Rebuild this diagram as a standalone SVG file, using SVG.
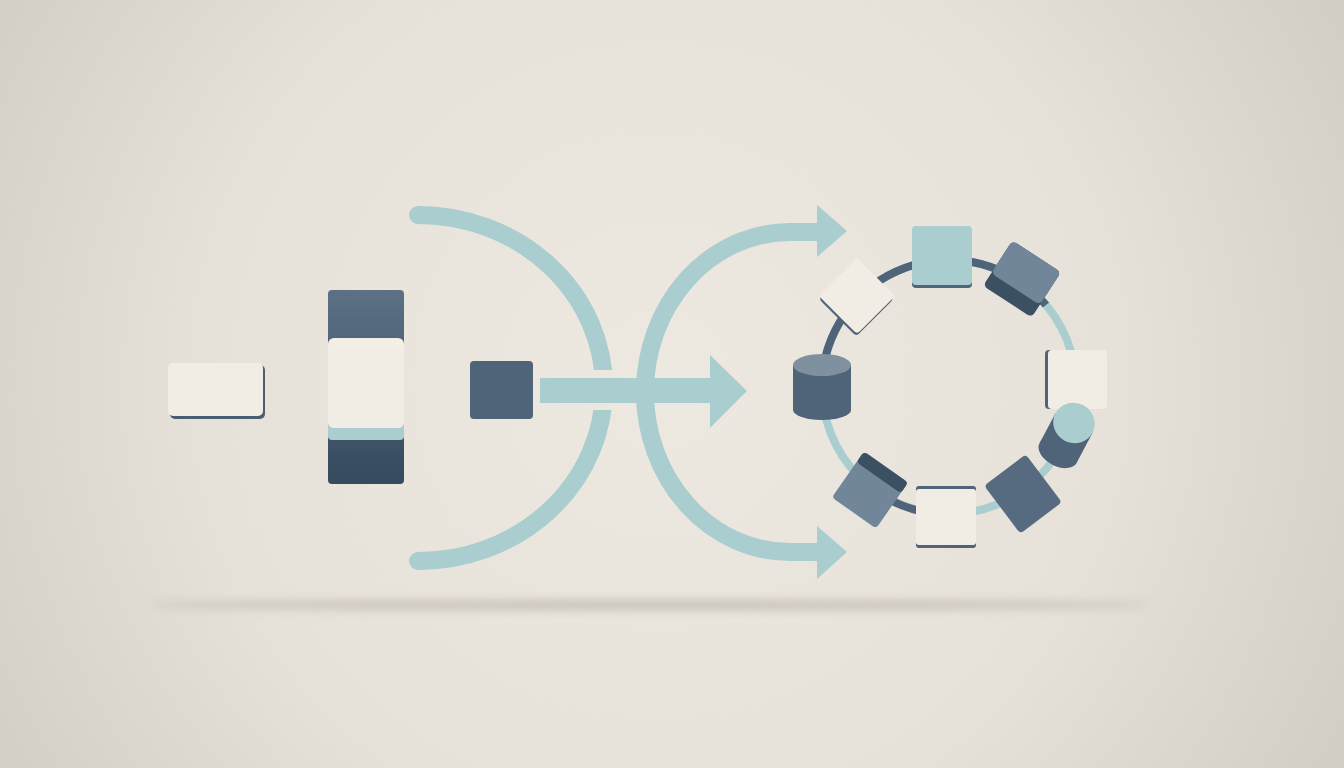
<svg xmlns="http://www.w3.org/2000/svg" width="1344" height="768" viewBox="0 0 1344 768">
  <defs>
    <radialGradient id="bg" cx="660" cy="380" r="760" gradientUnits="userSpaceOnUse">
      <stop offset="0" stop-color="#ede9e1"/>
      <stop offset="0.6" stop-color="#e6e1d9"/>
      <stop offset="1" stop-color="#d3cec6"/>
    </radialGradient>
    <linearGradient id="colGrad" x1="0" y1="0" x2="0" y2="1">
      <stop offset="0" stop-color="#5c7086"/>
      <stop offset="1" stop-color="#354a5d"/>
    </linearGradient>
    <filter id="blur" x="-20%" y="-500%" width="140%" height="1100%">
      <feGaussianBlur stdDeviation="5"/>
    </filter>
    <clipPath id="gapClip">
      <rect x="380" y="190" width="260" height="180"/>
      <rect x="380" y="410" width="260" height="170"/>
    </clipPath>
    <style>
      .flow { fill: none; stroke: #aacdcf; stroke-width: 18; stroke-linecap: butt; }
      .teal { fill: #aacdcf; }
      .cream { fill: #f1ede5; }
      .dark { fill: #4f6379; }
      .deep { fill: #3c5064; }
      .gray { fill: #72869a; }
      .ring { fill: none; stroke-width: 8; }
    </style>
  </defs>

  <rect width="1344" height="768" fill="url(#bg)"/>
  <ellipse cx="650" cy="605" rx="500" ry="5" fill="#a8a197" opacity="0.5" filter="url(#blur)"/>

  <g id="connectors">
    <!-- left arc with a gap around the horizontal arrow -->
    <g clip-path="url(#gapClip)">
      <path class="flow" d="M 418 215 A 186 173 0 0 1 418 561"/>
    </g>
    <circle class="teal" cx="418" cy="215" r="9"/>
    <circle class="teal" cx="418" cy="561" r="9"/>
    <!-- right arc with two arrows -->
    <path class="flow" d="M 820 232 L 790 232 A 145 160 0 0 0 790 552 L 820 552"/>
    <polygon class="teal" points="817,205 847,231 817,257"/>
    <polygon class="teal" points="817,526 847,552 817,579"/>
    <!-- straight arrow -->
    <rect class="teal" x="540" y="378" width="172" height="25"/>
    <polygon class="teal" points="710,355 747,391 710,428"/>
  </g>

  <g id="node-left">
    <rect x="170" y="365" width="95" height="54" rx="5" fill="#4a5e73"/>
    <rect class="cream" x="168" y="363" width="95" height="53" rx="5"/>
  </g>

  <g id="node-stack">
    <rect x="328" y="290" width="76" height="194" rx="4" fill="url(#colGrad)"/>
    <rect class="teal" x="328" y="418" width="76" height="22" rx="4"/>
    <rect x="328" y="338" width="76" height="90" rx="6" fill="#f3efe7"/>
    <rect class="cream" x="328" y="350" width="76" height="78" rx="6"/>
  </g>

  <g id="node-square">
    <rect class="dark" x="470" y="361" width="63" height="58" rx="4"/>
  </g>

  <g id="ring">
    <circle class="ring" cx="949" cy="387" r="127" stroke="#aacdcf"/>
    <path class="ring" stroke="#4f6379" d="M 822 387 A 127 127 0 0 1 1046 305"/>
    <path class="ring" stroke="#4f6379" d="M 892 501 A 127 127 0 0 0 925 512"/>
  </g>

  <g id="node-top">
    <rect class="dark" x="912" y="229" width="60" height="59" rx="4"/>
    <rect class="teal" x="912" y="226" width="60" height="59" rx="4"/>
  </g>

  <g id="node-top-right" transform="translate(1022,279) rotate(33)">
    <rect class="deep" x="-29" y="-27" width="58" height="54" rx="5"/>
    <rect class="gray" x="-29" y="-27" width="58" height="39" rx="5"/>
  </g>

  <g id="node-top-left" transform="translate(857,296) rotate(45)">
    <rect class="dark" x="-25" y="-24" width="53" height="53" rx="4"/>
    <rect class="cream" x="-27" y="-27" width="54" height="54" rx="4"/>
  </g>

  <g id="node-cylinder-left">
    <rect class="dark" x="793" y="365" width="58" height="45"/>
    <ellipse class="dark" cx="822" cy="410" rx="29" ry="10"/>
    <ellipse cx="822" cy="365" rx="29" ry="11" fill="#7f919f"/>
  </g>

  <g id="node-right">
    <rect class="dark" x="1045" y="350" width="60" height="59" rx="4"/>
    <rect class="cream" x="1048" y="350" width="59" height="59" rx="4"/>
  </g>

  <g id="node-cylinder-right" transform="translate(1074,423) rotate(28)">
    <rect class="dark" x="-21" y="0" width="42" height="34"/>
    <ellipse class="dark" cx="0" cy="34" rx="21" ry="13"/>
    <ellipse class="teal" cx="0" cy="0" rx="21" ry="20"/>
  </g>

  <g id="node-bottom-right" transform="translate(1023,494) rotate(-37)">
    <rect x="-26" y="-30" width="52" height="60" rx="4" fill="#566a80"/>
  </g>

  <g id="node-bottom">
    <rect class="dark" x="916" y="486" width="60" height="62" rx="3"/>
    <rect class="cream" x="916" y="489" width="60" height="56" rx="3"/>
  </g>

  <g id="node-bottom-left" transform="translate(870,490) rotate(35)">
    <rect class="gray" x="-27" y="-28" width="54" height="56" rx="4"/>
    <rect class="deep" x="-27" y="-28" width="54" height="13" rx="4"/>
  </g>
</svg>
